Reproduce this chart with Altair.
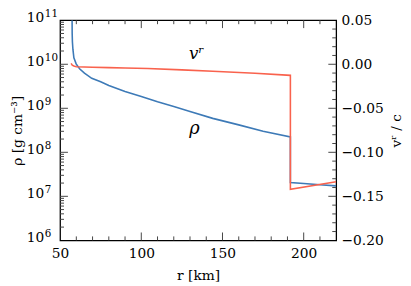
import altair as alt
import pandas as pd

# ---- data ----
rho_r = [57.4, 57.45, 57.6, 57.9, 58.5, 59.9, 62, 65, 69.5, 75, 80, 90, 100, 110,
         120, 130, 144, 160, 175, 191.8, 191.8, 200, 210, 220]
rho_val = [1.0e11, 5.0e10, 3.2e10, 2.2e10, 1.4e10, 1.02e10, 7.9e9, 6.3e9, 4.8e9, 4.0e9,
           3.3e9, 2.4e9, 1.86e9, 1.41e9, 1.10e9, 8.5e8, 5.9e8, 4.2e8, 3.0e8, 2.24e8,
           2.07e7, 1.95e7, 1.84e7, 1.73e7]
v_r = [56.8, 57.5, 58.5, 60, 70, 80, 90, 104, 125, 144, 170, 191.8, 191.8, 220]
v_val = [0.001, -0.001, -0.002, -0.0028, -0.0033, -0.0038, -0.0043, -0.0049,
         -0.0064, -0.0079, -0.0103, -0.0126, -0.142, -0.1335]

x_labels = [50, 100, 150, 200]
x_major = [100, 150, 200]
x_minor = [60, 70, 80, 90, 110, 120, 130, 140, 160, 170, 180, 190, 210]
rho_labels = [1e6, 1e7, 1e8, 1e9, 1e10, 1e11]
rho_exps = ["6", "7", "8", "9", "10", "11"]
rho_major = [1e7, 1e8, 1e9, 1e10]
rho_minor = [m * 10.0 ** k for k in range(6, 11) for m in range(2, 10)]
v_labels = [-0.20, -0.15, -0.10, -0.05, 0.00, 0.05]
v_major = [-0.15, -0.10, -0.05, 0.00]
v_minor = [round(-0.20 + 0.01 * i, 2) for i in range(1, 25) if i % 5 != 0]

rho_note = {"r": [132.7], "y": [3.3e8], "t": ["ρ"]}
v_note = {"r": [134.0], "y": [0.0118], "t": ["vʳ"]}

W, H = 281, 224
BLUE = "#3d7ab7"
RED = "#f9624d"
FONT = "DejaVu Serif"

xs = alt.Scale(domain=[50, 220], nice=False, zero=False)
ls = alt.Scale(type="log", domain=[1e6, 1e11], nice=False)
vs = alt.Scale(domain=[-0.20, 0.05], nice=False, zero=False)

x_axis = alt.Axis(values=x_labels, tickSize=0, domain=False, grid=False, labelPadding=6,
                  labelFlush=False, title="r [km]", titlePadding=9, format="d")
l_axis = alt.Axis(values=rho_labels, tickSize=0, domain=False, grid=False, labels=False,
                  title="ρ [g cm⁻³]", titlePadding=36, orient="left")
r_axis = alt.Axis(values=v_labels, tickSize=0, domain=False, grid=False, format=".2f",
                  labelPadding=5, labelFlush=False, title="vʳ / c", titlePadding=7,
                  titleAngle=270, titleBaseline="top", orient="right")

rho_df = pd.DataFrame({"r": rho_r, "rho": rho_val, "i": range(len(rho_r))})
v_df = pd.DataFrame({"r": v_r, "v": v_val, "i": range(len(v_r))})

blue = alt.Chart(rho_df).mark_line(color=BLUE, strokeWidth=1.6, clip=True).encode(
    x=alt.X("r:Q", scale=xs, axis=x_axis),
    y=alt.Y("rho:Q", scale=ls, axis=l_axis),
    order="i:Q",
)
red = alt.Chart(v_df).mark_line(color=RED, strokeWidth=1.6, clip=True).encode(
    x=alt.X("r:Q", scale=xs, axis=x_axis),
    y=alt.Y("v:Q", scale=vs, axis=r_axis),
    order="i:Q",
)

TC = "#444444"


def xticks(vals, length):
    d = pd.DataFrame({"t": vals})
    bot = alt.Chart(d).mark_rule(color=TC, strokeWidth=1).encode(
        x=alt.X("t:Q", scale=xs, axis=x_axis), y=alt.value(H), y2=alt.value(H - length))
    top = alt.Chart(d).mark_rule(color=TC, strokeWidth=1).encode(
        x=alt.X("t:Q", scale=xs, axis=x_axis), y=alt.value(0), y2=alt.value(length))
    return [bot, top]


def lticks(vals, length):
    d = pd.DataFrame({"t": vals})
    return alt.Chart(d).mark_rule(color=TC, strokeWidth=1).encode(
        y=alt.Y("t:Q", scale=ls, axis=l_axis), x=alt.value(0), x2=alt.value(length))


def rticks(vals, length):
    d = pd.DataFrame({"t": vals})
    return alt.Chart(d).mark_rule(color=TC, strokeWidth=1).encode(
        y=alt.Y("t:Q", scale=vs, axis=r_axis), x=alt.value(W), x2=alt.value(W - length))


lab_df = pd.DataFrame({"t": rho_labels, "e": rho_exps, "b": ["10"] * len(rho_labels)})
base_lab = alt.Chart(lab_df).mark_text(
    font=FONT, fontSize=14, align="right", baseline="alphabetic", dy=2, color="black").encode(
    y=alt.Y("t:Q", scale=ls, axis=l_axis), x=alt.value(-16), text="b:N")
exp_lab = alt.Chart(lab_df).mark_text(
    font=FONT, fontSize=10.5, align="left", baseline="alphabetic", dy=-3, color="black").encode(
    y=alt.Y("t:Q", scale=ls, axis=l_axis), x=alt.value(-15.5), text="e:N")

rho_txt = alt.Chart(pd.DataFrame(rho_note)).mark_text(
    font=FONT, fontSize=18, fontStyle="italic", color="black").encode(
    x=alt.X("r:Q", scale=xs, axis=x_axis), y=alt.Y("y:Q", scale=ls, axis=l_axis), text="t:N")
v_txt = alt.Chart(pd.DataFrame(v_note)).mark_text(
    font=FONT, fontSize=17, fontStyle="italic", color="black").encode(
    x=alt.X("r:Q", scale=xs, axis=x_axis), y=alt.Y("y:Q", scale=vs, axis=r_axis), text="t:N")

left = alt.layer(blue, *xticks(x_major, 8), *xticks(x_minor, 4),
                 lticks(rho_major, 8), lticks(rho_minor, 4), base_lab, exp_lab, rho_txt)
right = alt.layer(red, rticks(v_major, 8), rticks(v_minor, 4), v_txt)

chart = alt.layer(left, right).resolve_scale(y="independent").properties(
    width=W, height=H, autosize=alt.AutoSizeParams(type="none"),
    padding={"left": 53, "top": 10, "right": 68, "bottom": 44},
).configure_view(stroke="black", strokeWidth=1.3).configure_axis(
    labelFont=FONT, titleFont=FONT, labelFontSize=14, titleFontSize=14,
    labelColor="black", titleColor="black", titleFontWeight="normal",
)

chart.save("out.html", embed_options={"renderer": "svg", "actions": False})
